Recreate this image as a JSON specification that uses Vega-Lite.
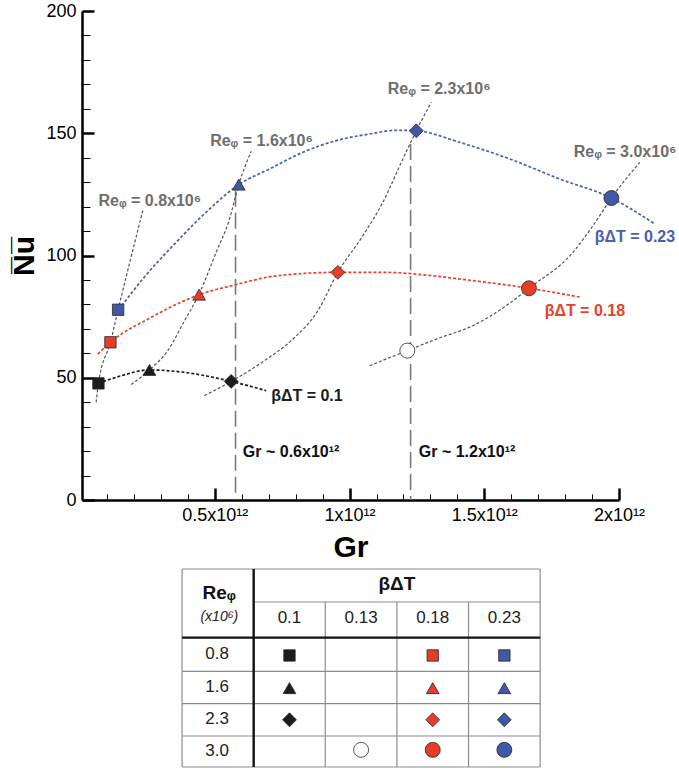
{
  "$schema": "https://vega.github.io/schema/vega-lite/v6.json",
  "background": "white",
  "padding": {"left": 9, "top": 2, "right": 0, "bottom": 0},
  "bounds": "flush",
  "spacing": 69,
  "config": {
    "view": {"stroke": null},
    "font": "Liberation Sans"
  },
  "datasets": {
    "bdtCurves": [
      {"bdt": "0.23", "gr": 0.1433, "nu": 77.8}, {"bdt": "0.23", "gr": 0.2325, "nu": 90.4}, {"bdt": "0.23", "gr": 0.3565, "nu": 105.4},
      {"bdt": "0.23", "gr": 0.4801, "nu": 119.0}, {"bdt": "0.23", "gr": 0.5889, "nu": 129.0}, {"bdt": "0.23", "gr": 0.7029, "nu": 135.4},
      {"bdt": "0.23", "gr": 0.8266, "nu": 142.2}, {"bdt": "0.23", "gr": 0.9506, "nu": 147.0}, {"bdt": "0.23", "gr": 1.0743, "nu": 149.7},
      {"bdt": "0.23", "gr": 1.1734, "nu": 151.2}, {"bdt": "0.23", "gr": 1.2477, "nu": 151.0}, {"bdt": "0.23", "gr": 1.4085, "nu": 146.3},
      {"bdt": "0.23", "gr": 1.5941, "nu": 139.5}, {"bdt": "0.23", "gr": 1.7798, "nu": 131.3}, {"bdt": "0.23", "gr": 1.9718, "nu": 123.5},
      {"bdt": "0.23", "gr": 2.1326, "nu": 112.9},
      {"bdt": "0.18", "gr": 0.0654, "nu": 59.7}, {"bdt": "0.18", "gr": 0.1125, "nu": 64.5}, {"bdt": "0.18", "gr": 0.2636, "nu": 74.7},
      {"bdt": "0.18", "gr": 0.4430, "nu": 84.0}, {"bdt": "0.18", "gr": 0.5793, "nu": 88.1}, {"bdt": "0.18", "gr": 0.7278, "nu": 91.7},
      {"bdt": "0.18", "gr": 0.9566, "nu": 93.1}, {"bdt": "0.18", "gr": 1.1300, "nu": 93.1}, {"bdt": "0.18", "gr": 1.2848, "nu": 92.0},
      {"bdt": "0.18", "gr": 1.4085, "nu": 90.4}, {"bdt": "0.18", "gr": 1.6658, "nu": 86.6}, {"bdt": "0.18", "gr": 1.8604, "nu": 82.9},
      {"bdt": "0.1", "gr": 0.0680, "nu": 47.7}, {"bdt": "0.1", "gr": 0.1522, "nu": 50.8}, {"bdt": "0.1", "gr": 0.2573, "nu": 53.2},
      {"bdt": "0.1", "gr": 0.3873, "nu": 52.2}, {"bdt": "0.1", "gr": 0.5607, "nu": 48.5}, {"bdt": "0.1", "gr": 0.6907, "nu": 44.7}
    ],
    "reCurves": [
      {"re": "0.8", "gr": 0.0594, "nu": 39.9}, {"re": "0.8", "gr": 0.0680, "nu": 47.7}, {"re": "0.8", "gr": 0.1125, "nu": 64.5},
      {"re": "0.8", "gr": 0.1411, "nu": 77.8}, {"re": "0.8", "gr": 0.2325, "nu": 118.3},
      {"re": "1.6", "gr": 0.1894, "nu": 47.2}, {"re": "1.6", "gr": 0.2573, "nu": 53.2}, {"re": "1.6", "gr": 0.3253, "nu": 61.1},
      {"re": "1.6", "gr": 0.3873, "nu": 73.3}, {"re": "1.6", "gr": 0.4404, "nu": 84.0}, {"re": "1.6", "gr": 0.5050, "nu": 101.3},
      {"re": "1.6", "gr": 0.5544, "nu": 114.9}, {"re": "1.6", "gr": 0.5889, "nu": 129.0}, {"re": "1.6", "gr": 0.6350, "nu": 142.6},
      {"re": "2.3", "gr": 0.4616, "nu": 42.7}, {"re": "2.3", "gr": 0.5607, "nu": 48.5}, {"re": "2.3", "gr": 0.6844, "nu": 57.0},
      {"re": "2.3", "gr": 0.7835, "nu": 65.2}, {"re": "2.3", "gr": 0.8823, "nu": 77.4}, {"re": "2.3", "gr": 0.9566, "nu": 93.1},
      {"re": "2.3", "gr": 1.0494, "nu": 108.1}, {"re": "2.3", "gr": 1.1237, "nu": 121.8}, {"re": "2.3", "gr": 1.1979, "nu": 139.5},
      {"re": "2.3", "gr": 1.2477, "nu": 151.0}, {"re": "2.3", "gr": 1.3034, "nu": 162.7},
      {"re": "3.0", "gr": 1.0743, "nu": 54.9}, {"re": "3.0", "gr": 1.2143, "nu": 61.1}, {"re": "3.0", "gr": 1.3219, "nu": 65.8},
      {"re": "3.0", "gr": 1.4578, "nu": 71.3}, {"re": "3.0", "gr": 1.5819, "nu": 79.5}, {"re": "3.0", "gr": 1.6658, "nu": 86.6},
      {"re": "3.0", "gr": 1.8292, "nu": 101.3}, {"re": "3.0", "gr": 1.9035, "nu": 112.2}, {"re": "3.0", "gr": 1.9718, "nu": 123.5},
      {"re": "3.0", "gr": 2.0770, "nu": 138.1}
    ],
    "cases": [
      {"re": "0.8", "bdt": "0.1", "gr": 0.0680, "nu": 47.7},
      {"re": "1.6", "bdt": "0.1", "gr": 0.2573, "nu": 53.2},
      {"re": "2.3", "bdt": "0.1", "gr": 0.5607, "nu": 48.5},
      {"re": "3.0", "bdt": "0.13", "gr": 1.2143, "nu": 61.1},
      {"re": "0.8", "bdt": "0.18", "gr": 0.1125, "nu": 64.5},
      {"re": "1.6", "bdt": "0.18", "gr": 0.4418, "nu": 84.0},
      {"re": "2.3", "bdt": "0.18", "gr": 0.9566, "nu": 93.1},
      {"re": "3.0", "bdt": "0.18", "gr": 1.6658, "nu": 86.6},
      {"re": "0.8", "bdt": "0.23", "gr": 0.1411, "nu": 77.8},
      {"re": "1.6", "bdt": "0.23", "gr": 0.5889, "nu": 129.0},
      {"re": "2.3", "bdt": "0.23", "gr": 1.2477, "nu": 151.0},
      {"re": "3.0", "bdt": "0.23", "gr": 1.9718, "nu": 123.5}
    ],
    "thresholds": [
      {"gr": 0.5768, "nu": 126.5},
      {"gr": 1.2265, "nu": 145.6}
    ],
    "notes": [
      {"text": "Reᵩ = 0.8x10⁶", "gr": 0.068, "nu": 122.4, "tone": "re"},
      {"text": "Reᵩ = 1.6x10⁶", "gr": 0.4826, "nu": 147.0, "tone": "re"},
      {"text": "Reᵩ = 2.3x10⁶", "gr": 1.142, "nu": 168.1, "tone": "re"},
      {"text": "Reᵩ = 3.0x10⁶", "gr": 1.832, "nu": 142.5, "tone": "re"},
      {"text": "βΔT = 0.23", "gr": 1.910, "nu": 107.4, "tone": "0.23"},
      {"text": "βΔT = 0.18", "gr": 1.724, "nu": 77.4, "tone": "0.18"},
      {"text": "βΔT = 0.1", "gr": 0.709, "nu": 42.7, "tone": "0.1"},
      {"text": "Gr ~ 0.6x10¹²", "gr": 0.604, "nu": 19.5, "tone": "gr"},
      {"text": "Gr ~ 1.2x10¹²", "gr": 1.257, "nu": 19.5, "tone": "gr"}
    ],
    "tableLines": [
      {"cx": 0, "cx2": 5, "cy": 6, "cy2": 6, "weight": "thin"},
      {"cx": 0, "cx2": 5, "cy": 0, "cy2": 0, "weight": "thin"},
      {"cx": 0, "cx2": 0, "cy": 0, "cy2": 6, "weight": "thin"},
      {"cx": 5, "cx2": 5, "cy": 0, "cy2": 6, "weight": "thin"},
      {"cx": 1, "cx2": 5, "cy": 5, "cy2": 5, "weight": "thin"},
      {"cx": 2, "cx2": 2, "cy": 0, "cy2": 5, "weight": "thin"},
      {"cx": 3, "cx2": 3, "cy": 0, "cy2": 5, "weight": "thin"},
      {"cx": 4, "cx2": 4, "cy": 0, "cy2": 5, "weight": "thin"},
      {"cx": 0, "cx2": 5, "cy": 2.9, "cy2": 2.9, "weight": "thin"},
      {"cx": 0, "cx2": 5, "cy": 1.92, "cy2": 1.92, "weight": "thin"},
      {"cx": 0, "cx2": 5, "cy": 0.94, "cy2": 0.94, "weight": "thin"},
      {"cx": 0, "cx2": 5, "cy": 3.92, "cy2": 3.92, "weight": "thick"},
      {"cx": 1, "cx2": 1, "cy": 0, "cy2": 6, "weight": "thick"}
    ],
    "tableText": [
      {"text": "Reᵩ", "cx": 0.52, "cy": 5.27, "role": "head"},
      {"text": "βΔT", "cx": 3.0, "cy": 5.55, "role": "head"},
      {"text": "(x10⁶)", "cx": 0.52, "cy": 4.55, "role": "unit"},
      {"text": "0.1", "cx": 1.5, "cy": 4.53, "role": "cell"},
      {"text": "0.13", "cx": 2.5, "cy": 4.53, "role": "cell"},
      {"text": "0.18", "cx": 3.5, "cy": 4.53, "role": "cell"},
      {"text": "0.23", "cx": 4.5, "cy": 4.53, "role": "cell"},
      {"text": "0.8", "cx": 0.49, "cy": 3.43, "role": "cell"},
      {"text": "1.6", "cx": 0.49, "cy": 2.43, "role": "cell"},
      {"text": "2.3", "cx": 0.49, "cy": 1.45, "role": "cell"},
      {"text": "3.0", "cx": 0.49, "cy": 0.49, "role": "cell"}
    ],
    "tableMarks": [
      {"re": "0.8", "bdt": "0.1", "cx": 1.5, "cy": 3.38},
      {"re": "1.6", "bdt": "0.1", "cx": 1.5, "cy": 2.39},
      {"re": "2.3", "bdt": "0.1", "cx": 1.5, "cy": 1.43},
      {"re": "3.0", "bdt": "0.13", "cx": 2.5, "cy": 0.52},
      {"re": "0.8", "bdt": "0.18", "cx": 3.5, "cy": 3.38},
      {"re": "1.6", "bdt": "0.18", "cx": 3.5, "cy": 2.39},
      {"re": "2.3", "bdt": "0.18", "cx": 3.5, "cy": 1.43},
      {"re": "3.0", "bdt": "0.18", "cx": 3.5, "cy": 0.52},
      {"re": "0.8", "bdt": "0.23", "cx": 4.5, "cy": 3.38},
      {"re": "1.6", "bdt": "0.23", "cx": 4.5, "cy": 2.39},
      {"re": "2.3", "bdt": "0.23", "cx": 4.5, "cy": 1.43},
      {"re": "3.0", "bdt": "0.23", "cx": 4.5, "cy": 0.52}
    ]
  },
  "vconcat": [
    {
      "width": 537,
      "height": 489,
      "encoding": {
        "x": {
          "field": "gr", "type": "quantitative",
          "scale": {"domain": [0.007, 2], "nice": false, "zero": false},
          "axis": {
            "title": "Gr", "titleFontSize": 30, "titleFontWeight": "bold", "titleColor": "#000000", "titlePadding": 2,
            "values": [0.1, 0.2, 0.3, 0.4, 0.5, 0.6, 0.7, 0.8, 0.9, 1, 1.1, 1.2, 1.3, 1.4, 1.5, 1.6, 1.7, 1.8, 1.9, 2],
            "labelExpr": "indexof([0.5, 1, 1.5, 2], datum.value) >= 0 ? datum.value + 'x10¹²' : ''",
            "labelFontSize": 18, "labelColor": "#000000", "labelPadding": 18, "labelFlush": false, "labelOverlap": false,
            "tickSize": {"condition": {"test": "indexof([0.5, 1, 1.5, 2], datum.value) >= 0", "value": -12}, "value": -6},
            "tickWidth": {"condition": {"test": "indexof([0.5, 1, 1.5, 2], datum.value) >= 0", "value": 2.5}, "value": 1},
            "tickColor": "#000000", "domainColor": "#000000", "domainWidth": 2.5, "grid": false
          }
        },
        "y": {
          "field": "nu", "type": "quantitative",
          "scale": {"domain": [0, 200], "nice": false},
          "axis": {
            "title": "N̅u̅", "titleFontSize": 30, "titleFontWeight": "bold", "titleColor": "#000000", "titlePadding": 6,
            "values": [0, 10, 20, 30, 40, 50, 60, 70, 80, 90, 100, 110, 120, 130, 140, 150, 160, 170, 180, 190, 200],
            "labelExpr": "datum.value % 50 === 0 ? datum.label : ''",
            "labelFontSize": 18, "labelColor": "#000000", "labelPadding": 18, "labelOverlap": false,
            "tickSize": {"condition": {"test": "datum.value % 50 === 0", "value": -12}, "value": -8},
            "tickWidth": {"condition": {"test": "datum.value % 50 === 0", "value": 2.5}, "value": 1},
            "tickColor": "#000000", "domainColor": "#000000", "domainWidth": 2.5, "grid": false
          }
        }
      },
      "layer": [
        {
          "data": {"name": "thresholds"},
          "mark": {"type": "rule", "stroke": "#7a7a7a", "strokeWidth": 1.6, "strokeDash": [16, 6]},
          "encoding": {"y2": {"datum": 0}}
        },
        {
          "data": {"name": "reCurves"},
          "mark": {"type": "line", "interpolate": "monotone", "stroke": "#555555", "strokeWidth": 1.2, "strokeDash": [3, 2]},
          "encoding": {"detail": {"field": "re", "type": "nominal"}}
        },
        {
          "data": {"name": "bdtCurves"},
          "mark": {"type": "line", "interpolate": "monotone", "strokeWidth": 1.7, "strokeDash": [3, 2]},
          "encoding": {
            "color": {
              "field": "bdt", "type": "nominal",
              "scale": {"domain": ["0.1", "0.18", "0.23", "re", "gr"], "range": ["#1c1c1c", "#e8412c", "#4a5fae", "#6e6e6e", "#111111"]},
              "legend": null
            }
          }
        },
        {
          "data": {"name": "cases"},
          "mark": {"type": "point", "filled": true, "opacity": 1, "stroke": "#2a2a2a", "strokeWidth": 0.8},
          "encoding": {
            "shape": {"field": "re", "type": "nominal", "scale": {"domain": ["0.8", "1.6", "2.3", "3.0"], "range": ["square", "triangle-up", "diamond", "circle"]}, "legend": null},
            "fill": {"field": "bdt", "type": "nominal", "scale": {"domain": ["0.1", "0.13", "0.18", "0.23"], "range": ["#1c1c1c", "#ffffff", "#e63c28", "#4058a6"]}, "legend": null},
            "size": {"field": "re", "type": "ordinal", "scale": {"type": "point", "domain": ["0.8", "1.6", "2.3", "3.0"], "range": [130, 225], "padding": 0}, "legend": null}
          }
        },
        {
          "data": {"name": "notes"},
          "mark": {"type": "text", "align": "left", "baseline": "middle", "fontSize": 16, "fontWeight": "bold", "font": "Liberation Sans"},
          "encoding": {
            "text": {"field": "text"},
            "color": {
              "field": "tone", "type": "nominal",
              "scale": {"domain": ["0.1", "0.18", "0.23", "re", "gr"], "range": ["#1c1c1c", "#e8412c", "#4a5fae", "#6e6e6e", "#111111"]},
              "legend": null
            }
          }
        }
      ]
    },
    {
      "width": 537,
      "height": 198,
      "encoding": {
        "x": {"field": "cx", "type": "quantitative", "scale": {"domain": [-1.397, 6.101], "nice": false, "zero": false}, "axis": null},
        "y": {"field": "cy", "type": "quantitative", "scale": {"domain": [0, 6], "nice": false, "zero": false}, "axis": null}
      },
      "layer": [
        {
          "data": {"name": "tableLines"},
          "transform": [{"filter": "datum.weight === 'thin'"}],
          "mark": {"type": "rule", "stroke": "#8c8c8c", "strokeWidth": 1.2},
          "encoding": {"x2": {"field": "cx2"}, "y2": {"field": "cy2"}}
        },
        {
          "data": {"name": "tableLines"},
          "transform": [{"filter": "datum.weight === 'thick'"}],
          "mark": {"type": "rule", "stroke": "#111111", "strokeWidth": 2.4},
          "encoding": {"x2": {"field": "cx2"}, "y2": {"field": "cy2"}}
        },
        {
          "data": {"name": "tableText"},
          "transform": [{"filter": "datum.role === 'head'"}],
          "mark": {"type": "text", "align": "center", "baseline": "middle", "fontSize": 19, "fontWeight": "bold", "font": "Liberation Sans", "color": "#111111"},
          "encoding": {"text": {"field": "text"}}
        },
        {
          "data": {"name": "tableText"},
          "transform": [{"filter": "datum.role === 'unit'"}],
          "mark": {"type": "text", "align": "center", "baseline": "middle", "fontSize": 14, "fontStyle": "italic", "font": "Liberation Sans", "color": "#222222"},
          "encoding": {"text": {"field": "text"}}
        },
        {
          "data": {"name": "tableText"},
          "transform": [{"filter": "datum.role === 'cell'"}],
          "mark": {"type": "text", "align": "center", "baseline": "middle", "fontSize": 17, "font": "Liberation Sans", "color": "#222222"},
          "encoding": {"text": {"field": "text"}}
        },
        {
          "data": {"name": "tableMarks"},
          "mark": {"type": "point", "filled": true, "opacity": 1, "stroke": "#2a2a2a", "strokeWidth": 0.8},
          "encoding": {
            "shape": {"field": "re", "type": "nominal", "scale": {"domain": ["0.8", "1.6", "2.3", "3.0"], "range": ["square", "triangle-up", "diamond", "circle"]}, "legend": null},
            "fill": {"field": "bdt", "type": "nominal", "scale": {"domain": ["0.1", "0.13", "0.18", "0.23"], "range": ["#1c1c1c", "#ffffff", "#e63c28", "#4058a6"]}, "legend": null},
            "size": {"field": "re", "type": "ordinal", "scale": {"type": "point", "domain": ["0.8", "1.6", "2.3", "3.0"], "range": [110, 200], "padding": 0}, "legend": null}
          }
        }
      ]
    }
  ]
}
